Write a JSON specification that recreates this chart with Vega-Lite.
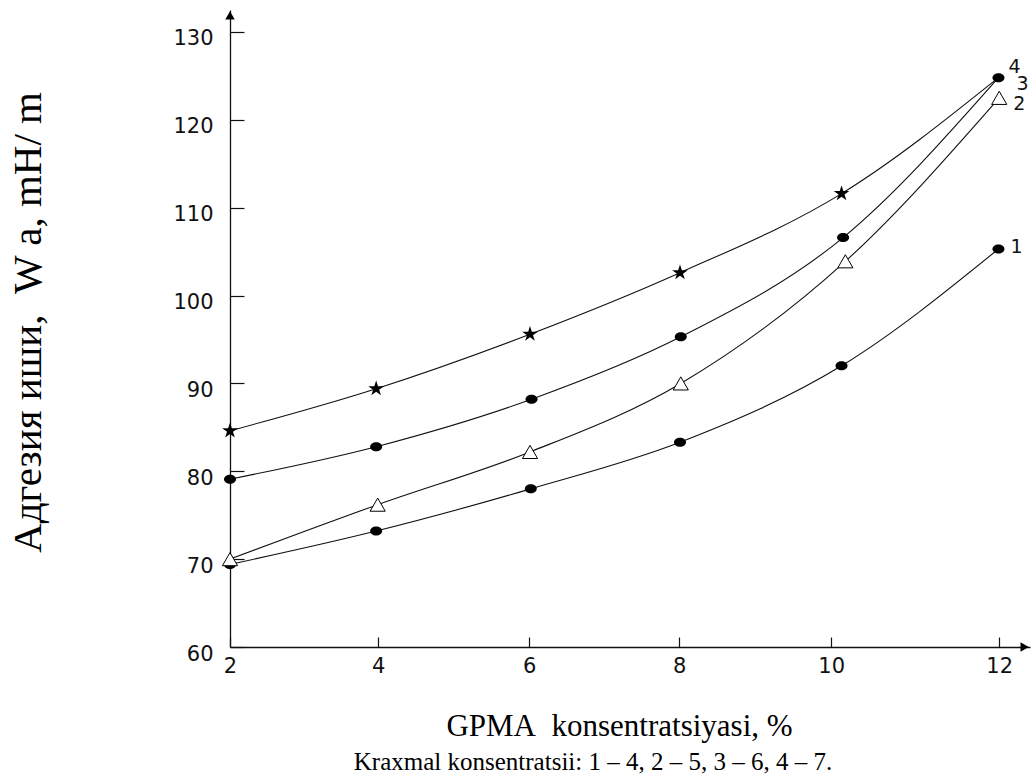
{
  "$schema": "https://vega.github.io/schema/vega-lite/v6.json",
  "width": 800,
  "height": 637,
  "autosize": {"type": "none"},
  "padding": {"left": 230, "top": 10, "right": 3, "bottom": 129},
  "background": "white",
  "config": {"view": {"stroke": null}},
  "title": {
    "text": "Kraxmal konsentratsii: 1 – 4, 2 – 5, 3 – 6, 4 – 7.",
    "orient": "bottom", "anchor": "middle", "frame": "group",
    "font": "Liberation Serif", "fontSize": 25, "fontWeight": "normal", "color": "#000",
    "baseline": "alphabetic", "offset": 29, "dx": -37
  },
  "datasets": {
    "curves": [
      {"s": "1", "x": 2, "y": 69.4}, {"s": "1", "x": 3.9, "y": 73.2}, {"s": "1", "x": 5.91, "y": 78.0}, {"s": "1", "x": 7.85, "y": 83.3}, {"s": "1", "x": 9.95, "y": 92.0}, {"s": "1", "x": 11.99, "y": 105.3},
      {"s": "2", "x": 2, "y": 70.0}, {"s": "2", "x": 3.92, "y": 76.2}, {"s": "2", "x": 5.9, "y": 82.2}, {"s": "2", "x": 7.86, "y": 90.0}, {"s": "2", "x": 10.0, "y": 103.9}, {"s": "2", "x": 12, "y": 122.5},
      {"s": "3", "x": 2, "y": 79.1}, {"s": "3", "x": 3.9, "y": 82.8}, {"s": "3", "x": 5.92, "y": 88.2}, {"s": "3", "x": 7.86, "y": 95.3}, {"s": "3", "x": 9.97, "y": 106.6}, {"s": "3", "x": 11.99, "y": 124.8},
      {"s": "4", "x": 2, "y": 84.6}, {"s": "4", "x": 3.9, "y": 89.4}, {"s": "4", "x": 5.9, "y": 95.6}, {"s": "4", "x": 7.85, "y": 102.6}, {"s": "4", "x": 9.95, "y": 111.6}, {"s": "4", "x": 11.99, "y": 124.8}
    ],
    "arrows": [
      {"dir": "up", "x": 2, "y": 131.9},
      {"dir": "right", "x": 12.33, "y": 60}
    ]
  },
  "layer": [
    {"data": {"name": "curves"},
     "mark": {"type": "line", "interpolate": "monotone", "color": "#111", "strokeWidth": 1.1},
     "encoding": {
      "x": {"field": "x", "type": "quantitative",
        "scale": {"domain": [2, 12.4], "nice": false, "zero": false},
        "axis": {
          "orient": "bottom",
          "values": [2, 3.925, 5.888, 7.839, 9.815, 12],
          "labelExpr": "'' + round(datum.value)",
          "grid": false, "domainColor": "#111", "domainWidth": 1.3,
          "ticks": true, "tickColor": "#111", "tickSize": -10, "tickWidth": 1.2, "tickOpacity": 1,
          "labelFont": "DejaVu Sans", "labelFontSize": 21, "labelColor": "#111",
          "labelPadding": 18, "labelBaseline": "top", "labelFlush": false, "labelOverlap": false, "labelBound": false,
          "title": "GPMA\u00a0\u00a0konsentratsiyasi,\u00a0%",
          "titleFont": "Liberation Serif", "titleFontSize": 31, "titleFontWeight": "normal", "titleColor": "#000",
          "titleX": 389, "titleY": 88, "titleAlign": "center", "titleBaseline": "alphabetic"
        }},
      "y": {"field": "y", "type": "quantitative",
        "scale": {"domain": [60, 132.5], "nice": false, "zero": false},
        "axis": {
          "orient": "left",
          "values": [60, 70, 80, 90, 100, 110, 120, 130],
          "grid": false, "domainColor": "#111", "domainWidth": 1.3,
          "ticks": true, "tickColor": "#111", "tickSize": -14, "tickWidth": 1.2, "tickOpacity": 1,
          "labelFont": "DejaVu Sans", "labelFontSize": 21, "labelColor": "#111",
          "labelPadding": 31, "labelOffset": 7, "labelOverlap": false, "labelBound": false, "labelFlush": false,
          "title": "Адгезия иши,\u00a0\u00a0W a, mH/ m",
          "titleFont": "Liberation Serif", "titleFontSize": 41, "titleFontWeight": "normal", "titleColor": "#000",
          "titleX": -190, "titleY": 312, "titleAlign": "center", "titleBaseline": "alphabetic", "titleAngle": -90
        }},
      "detail": {"field": "s", "type": "nominal"}
     }},
    {"data": {"name": "curves"},
     "transform": [{"filter": "datum.s == '1' || datum.s == '3'"}],
     "mark": {"type": "point", "shape": "M-1,0A1,0.75 0 1,0 1,0A1,0.75 0 1,0 -1,0Z", "filled": true, "color": "#000", "size": 144, "opacity": 1},
     "encoding": {"x": {"field": "x", "type": "quantitative"}, "y": {"field": "y", "type": "quantitative"}}},
    {"data": {"name": "curves"},
     "transform": [{"filter": "datum.s == '4' && datum.x < 11.5"}],
     "mark": {"type": "point", "shape": "M0,-1L0.2245,-0.309L0.951,-0.309L0.363,0.118L0.588,0.809L0,0.382L-0.588,0.809L-0.363,0.118L-0.951,-0.309L-0.2245,-0.309Z", "filled": true, "color": "#000", "size": 270, "opacity": 1},
     "encoding": {"x": {"field": "x", "type": "quantitative"}, "y": {"field": "y", "type": "quantitative"}}},
    {"data": {"name": "curves"},
     "transform": [{"filter": "datum.s == '2'"}],
     "mark": {"type": "point", "shape": "triangle-up", "filled": true, "fill": "white", "stroke": "#000", "strokeWidth": 1, "size": 230, "opacity": 1},
     "encoding": {"x": {"field": "x", "type": "quantitative"}, "y": {"field": "y", "type": "quantitative"}}},
    {"data": {"name": "arrows"},
     "transform": [{"filter": "datum.dir == 'up'"}],
     "mark": {"type": "point", "shape": "triangle-up", "filled": true, "color": "#000", "size": 90, "opacity": 1},
     "encoding": {"x": {"field": "x", "type": "quantitative"}, "y": {"field": "y", "type": "quantitative"}}},
    {"data": {"name": "arrows"},
     "transform": [{"filter": "datum.dir == 'right'"}],
     "mark": {"type": "point", "shape": "triangle-right", "filled": true, "color": "#000", "size": 90, "opacity": 1},
     "encoding": {"x": {"field": "x", "type": "quantitative"}, "y": {"field": "y", "type": "quantitative"}}},
    {"data": {"name": "curves"},
     "transform": [{"filter": "datum.s == '4' && datum.x > 11.5"}],
     "mark": {"type": "text", "font": "DejaVu Sans", "fontSize": 19, "color": "#111", "align": "left", "baseline": "middle", "dx": 10, "dy": -11},
     "encoding": {"x": {"field": "x", "type": "quantitative"}, "y": {"field": "y", "type": "quantitative"}, "text": {"field": "s", "type": "nominal"}}},
    {"data": {"name": "curves"},
     "transform": [{"filter": "datum.s == '3' && datum.x > 11.5"}],
     "mark": {"type": "text", "font": "DejaVu Sans", "fontSize": 19, "color": "#111", "align": "left", "baseline": "middle", "dx": 18, "dy": 6},
     "encoding": {"x": {"field": "x", "type": "quantitative"}, "y": {"field": "y", "type": "quantitative"}, "text": {"field": "s", "type": "nominal"}}},
    {"data": {"name": "curves"},
     "transform": [{"filter": "datum.s == '2' && datum.x > 11.5"}],
     "mark": {"type": "text", "font": "DejaVu Sans", "fontSize": 19, "color": "#111", "align": "left", "baseline": "middle", "dx": 14, "dy": 6},
     "encoding": {"x": {"field": "x", "type": "quantitative"}, "y": {"field": "y", "type": "quantitative"}, "text": {"field": "s", "type": "nominal"}}},
    {"data": {"name": "curves"},
     "transform": [{"filter": "datum.s == '1' && datum.x > 11.5"}],
     "mark": {"type": "text", "font": "DejaVu Sans", "fontSize": 19, "color": "#111", "align": "left", "baseline": "middle", "dx": 12, "dy": -2},
     "encoding": {"x": {"field": "x", "type": "quantitative"}, "y": {"field": "y", "type": "quantitative"}, "text": {"field": "s", "type": "nominal"}}}
  ]
}
